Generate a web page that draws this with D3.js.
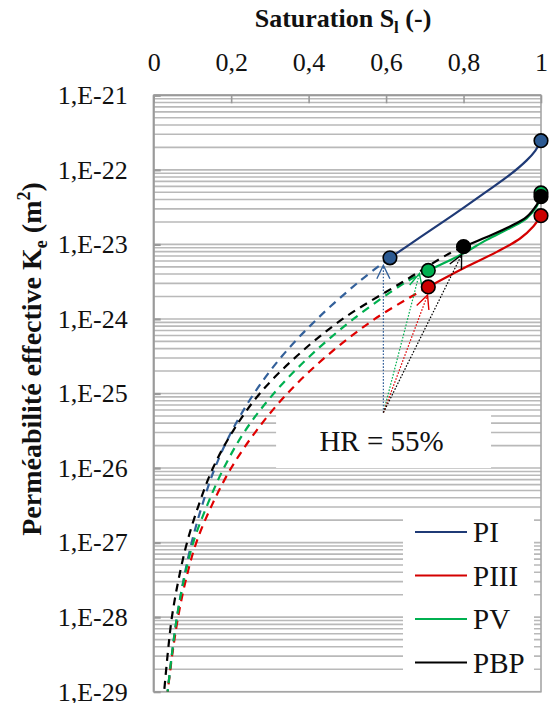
<!DOCTYPE html>
<html><head><meta charset="utf-8">
<script src="https://cdn.jsdelivr.net/npm/d3@7"></script>
<style>
body{margin:0;background:#fff}svg{display:block}
svg text{font-family:"Liberation Serif","Tinos","Times New Roman","Noto Serif","DejaVu Serif","FreeSerif",serif;}
</style>
</head><body>
<svg id="c" width="549" height="703"></svg>
<script>
// ---------- data ----------
const seriesNames = ["PI", "PIII", "PV", "PBP"];
const lineColors = {PI: "#1f3a76", PIII: "#d40000", PV: "#00b050", PBP: "#000000"};
const dashColors = {PI: "#33609a", PIII: "#e00000", PV: "#00b050", PBP: "#000000"};
const markerFill = {PI: "#2c5a92", PIII: "#cc0000", PV: "#00b050", PBP: "#000000"};
const xTickValues = [0, 0.2, 0.4, 0.6, 0.8, 1];
const yDecadeValues = [1e-21, 1e-22, 1e-23, 1e-24, 1e-25, 1e-26, 1e-27, 1e-28, 1e-29];

// measured (solid) curves
const satPI   = [0.61, 0.6875, 0.7735, 0.860, 0.920, 0.963, 0.985, 1.0];
const kPI     = [6.61e-24, 1.24e-23, 2.49e-23, 5.13e-23, 8.61e-23, 1.34e-22, 1.80e-22, 2.46e-22];
const satPIII = [0.709, 0.80, 0.886, 0.946, 0.98, 1.0];
const kPIII   = [2.69e-24, 4.79e-24, 7.94e-24, 1.20e-23, 1.74e-23, 2.43e-23];
const satPV   = [0.709, 0.774, 0.80, 0.86, 0.92, 0.963, 0.989, 1.0];
const kPV     = [4.47e-24, 6.46e-24, 7.59e-24, 1.15e-23, 1.66e-23, 2.24e-23, 3.24e-23, 4.9e-23];
const satPBP  = [0.80, 0.86, 0.92, 0.963, 0.989, 1.0];
const kPBP    = [9.33e-24, 1.26e-23, 1.74e-23, 2.34e-23, 3.39e-23, 4.37e-23];

// extrapolated (dashed) curves
const satPIdash   = [0.61, 0.530, 0.422, 0.331, 0.259, 0.202, 0.158, 0.125, 0.098, 0.077, 0.060, 0.047, 0.036];
const kPIdash     = [6.61e-24, 3.16e-24, 1e-24, 3.16e-25, 1e-25, 3.16e-26, 1e-26, 3.16e-27, 1e-27, 3.16e-28, 1e-28, 3.16e-29, 1e-29];
const satPIIIdash = [0.709, 0.571, 0.446, 0.345, 0.265, 0.200, 0.150, 0.110, 0.083, 0.063, 0.048, 0.036];
const kPIIIdash   = [2.69e-24, 1e-24, 3.16e-25, 1e-25, 3.16e-26, 1e-26, 3.16e-27, 1e-27, 3.16e-28, 1e-28, 3.16e-29, 1e-29];
const satPVdash   = [0.709, 0.653, 0.516, 0.403, 0.310, 0.236, 0.181, 0.138, 0.102, 0.078, 0.060, 0.047, 0.036];
const kPVdash     = [4.47e-24, 3.16e-24, 1e-24, 3.16e-25, 1e-25, 3.16e-26, 1e-26, 3.16e-27, 1e-27, 3.16e-28, 1e-28, 3.16e-29, 1e-29];
const satPBPdash  = [0.80, 0.757, 0.644, 0.488, 0.369, 0.274, 0.205, 0.153, 0.116, 0.086, 0.064, 0.047, 0.036, 0.027];
const kPBPdash    = [9.33e-24, 7.24e-24, 3.16e-24, 1e-24, 3.16e-25, 1e-25, 3.16e-26, 1e-26, 3.16e-27, 1e-27, 3.16e-28, 1e-28, 3.16e-29, 1e-29];

// markers
const markerSat = {PI: [0.61, 1], PIII: [0.709, 1], PV: [0.709, 1], PBP: [0.80, 1]};
const markerK   = {PI: [6.61e-24, 2.46e-22], PIII: [2.69e-24, 2.43e-23], PV: [4.47e-24, 4.9e-23], PBP: [9.33e-24, 4.37e-23]};

// annotation (HR = 55%)
const hrLabel = "HR = 55%";
const hrOrigin = [0.593, 5.53e-26];
const arrowTargetSat = {PI: 0.593, PV: 0.686, PIII: 0.707, PBP: 0.795};
const arrowTargetK   = {PI: 5.25e-24, PV: 4.07e-24, PIII: 2.09e-24, PBP: 7.24e-24};
const hrBoxSat = [0.316, 0.871];
const hrBoxK = [5.5e-26, 1.0e-26];

const xTitle = "Saturation S";
const yTitle = "Perméabilité effective K";

// ---------- drawing ----------
const solid = {PI: [satPI, kPI], PIII: [satPIII, kPIII], PV: [satPV, kPV], PBP: [satPBP, kPBP]};
const dashed = {PI: [satPIdash, kPIdash], PIII: [satPIIIdash, kPIIIdash], PV: [satPVdash, kPVdash], PBP: [satPBPdash, kPBPdash]};

const L = 153.7, R = 541, T = 95.3, B = 691.7;
const x = d3.scaleLinear().domain([0, 1]).range([L, R]);
const y = d3.scaleLog().domain([1e-29, 1e-21]).range([B, T]);
const GRID = "#b9b9b9", AXIS = "#a6a6a6";

const svg = d3.select("#c");

// gridlines (all log minor ticks)
const gridVals = y.ticks(80).filter(v => v >= 1e-29 * 0.999 && v <= 1e-21 * 1.001);
svg.append("g").selectAll("line").data(gridVals).join("line")
  .attr("x1", L).attr("x2", R).attr("y1", d => y(d)).attr("y2", d => y(d))
  .attr("stroke", GRID).attr("stroke-width", 1.6);

// frame
svg.append("rect").attr("x", L).attr("y", T).attr("width", R - L).attr("height", B - T)
  .attr("fill", "none").attr("stroke", AXIS).attr("stroke-width", 1.6);
svg.append("line").attr("x1", L).attr("x2", L).attr("y1", T).attr("y2", B).attr("stroke", "#9a9a9a").attr("stroke-width", 2);
svg.append("line").attr("x1", L).attr("x2", R).attr("y1", T).attr("y2", T).attr("stroke", "#9a9a9a").attr("stroke-width", 2);

// top axis
const xAxis = d3.axisTop(x).tickValues(xTickValues).tickSize(-8).tickPadding(14)
  .tickFormat(d => String(d).replace(".", ","));
const gx = svg.append("g").attr("transform", `translate(0,${T})`).call(xAxis);
gx.select(".domain").remove();
gx.attr("font-family", null);
gx.selectAll(".tick line").attr("stroke", "#9a9a9a").attr("stroke-width", 1.6);
gx.selectAll(".tick text").attr("font-size", 26).attr("fill", "#111").attr("y", -24);

// left axis
const yAxis = d3.axisLeft(y).tickValues(yDecadeValues).tickSize(-7).tickPadding(26)
  .tickFormat(d => "1,E" + Math.round(Math.log10(d)));
const gy = svg.append("g").attr("transform", `translate(${L},0)`).call(yAxis);
gy.select(".domain").remove();
gy.attr("font-family", null);
gy.selectAll(".tick line").attr("stroke", "#9a9a9a").attr("stroke-width", 2.2);
gy.selectAll(".tick text").attr("font-size", 26).attr("fill", "#111").attr("dy", "0.32em");

// titles
const xt = svg.append("text").attr("x", 343).attr("y", 27).attr("text-anchor", "middle")
  .attr("font-size", 26).attr("font-weight", "bold").attr("fill", "#111");
xt.append("tspan").text(xTitle);
xt.append("tspan").attr("font-size", 17).attr("dy", 6).text("l");
xt.append("tspan").attr("dy", -6).text(" (-)");

const yt = svg.append("text").attr("transform", "translate(41,359) rotate(-90)").attr("text-anchor", "middle")
  .attr("font-size", 28).attr("font-weight", "bold").attr("fill", "#111");
yt.append("tspan").text(yTitle);
yt.append("tspan").attr("font-size", 18).attr("dy", 6).text("e");
yt.append("tspan").attr("dy", -6).text(" (m");
yt.append("tspan").attr("font-size", 18).attr("dy", -11).text("2");
yt.append("tspan").attr("dy", 11).text(")");

const line = d3.line().x(d => x(d[0])).y(d => y(d[1])).curve(d3.curveCatmullRom.alpha(0.5));
const order = ["PI", "PIII", "PV", "PBP"];

// dashed curves
order.forEach(s => {
  const [sa, kk] = dashed[s];
  svg.append("path").datum(sa.map((v, i) => [v, kk[i]])).attr("d", line)
    .attr("fill", "none").attr("stroke", dashColors[s]).attr("stroke-width", 2.2)
    .attr("stroke-dasharray", "8,6");
});

// solid curves
order.forEach(s => {
  const [sa, kk] = solid[s];
  svg.append("path").datum(sa.map((v, i) => [v, kk[i]])).attr("d", line)
    .attr("fill", "none").attr("stroke", lineColors[s]).attr("stroke-width", 2.2);
});

// dotted arrows
const ox = x(hrOrigin[0]), oy = y(hrOrigin[1]);
["PI", "PV", "PIII", "PBP"].forEach(s => {
  const tx = x(arrowTargetSat[s]), ty = y(arrowTargetK[s]);
  const col = dashColors[s];
  svg.append("line").attr("x1", ox).attr("y1", oy).attr("x2", tx).attr("y2", ty)
    .attr("stroke", col).attr("stroke-width", 1.2).attr("stroke-dasharray", "1.6,1.6");
  const ang = Math.atan2(oy - ty, ox - tx);
  const len = 15, spread = 0.45;
  const p1 = [tx + len * Math.cos(ang + spread), ty + len * Math.sin(ang + spread)];
  const p2 = [tx + len * Math.cos(ang - spread), ty + len * Math.sin(ang - spread)];
  svg.append("path").attr("d", `M${p1[0]},${p1[1]}L${tx},${ty}L${p2[0]},${p2[1]}`)
    .attr("fill", "none").attr("stroke", col).attr("stroke-width", 1.4);
});

// markers
["PI", "PIII", "PV", "PBP"].forEach(s => {
  svg.append("g").selectAll("circle").data(markerSat[s].map((v, i) => [v, markerK[s][i]])).join("circle")
    .attr("cx", d => x(d[0])).attr("cy", d => y(d[1])).attr("r", 6.8)
    .attr("fill", markerFill[s]).attr("stroke", "#000").attr("stroke-width", 1.6);
});

// HR box
const bx0 = x(hrBoxSat[0]), bx1 = x(hrBoxSat[1]), by0 = y(hrBoxK[0]), by1 = y(hrBoxK[1]);
svg.append("rect").attr("x", bx0).attr("y", by0).attr("width", bx1 - bx0).attr("height", by1 - by0).attr("fill", "#fff");
svg.append("text").attr("x", (bx0 + bx1) / 2 - 2).attr("y", (by0 + by1) / 2).attr("dy", "0.36em")
  .attr("text-anchor", "middle").attr("font-size", 29).attr("fill", "#111").text(hrLabel);

// legend
const lg = svg.append("g").attr("transform", "translate(403,518)");
lg.append("rect").attr("width", 131).attr("height", 167).attr("fill", "#fff");
seriesNames.forEach((s, i) => {
  const cy = 14 + i * 43.5;
  lg.append("line").attr("x1", 12).attr("x2", 64).attr("y1", cy).attr("y2", cy)
    .attr("stroke", lineColors[s]).attr("stroke-width", 2.2);
  lg.append("text").attr("x", 70).attr("y", cy).attr("dy", "0.35em")
    .attr("font-size", 29).attr("fill", "#111").text(s);
});
</script>
</body></html>
